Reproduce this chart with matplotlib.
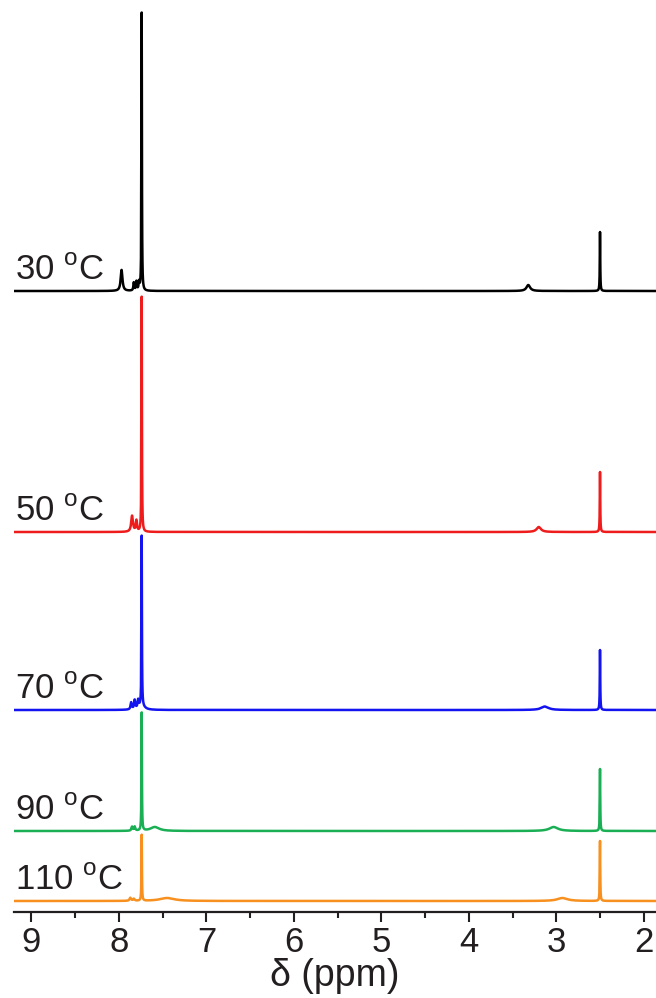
import numpy as np
import matplotlib
matplotlib.use("Agg")
import matplotlib.pyplot as plt
from matplotlib.ticker import MultipleLocator
from matplotlib.transforms import blended_transform_factory

plt.rcParams['font.family'] = ['Liberation Sans', 'DejaVu Sans']
plt.rcParams['mathtext.fontset'] = 'custom'
plt.rcParams['mathtext.rm'] = 'Liberation Sans'

# Temperature series (top to bottom)
temperatures = ["30", "50", "70", "90", "110"]
colors = ["#000000", "#EE1C1C", "#1414F0", "#1AAF54", "#F7901E"]
offsets = [621, 380, 202, 81, 11]

# Peak lists per spectrum: chemical shift (ppm), height, half width (ppm)
peaks_30 = [(7.74, 278, 0.003), (7.97, 21, 0.012), (7.83, 8, 0.006),
            (7.80, 9, 0.006), (7.77, 8, 0.006), (3.32, 6, 0.025), (2.50, 59, 0.003)]
peaks_50 = [(7.74, 235, 0.003), (7.85, 16, 0.012), (7.80, 11, 0.008),
            (3.20, 5, 0.03), (2.50, 60, 0.003)]
peaks_70 = [(7.74, 170, 0.003), (7.74, 4, 0.04), (7.86, 7, 0.008), (7.82, 9, 0.008),
            (7.78, 8, 0.008), (3.13, 3.5, 0.05), (2.50, 60, 0.003)]
peaks_90 = [(7.74, 118, 0.003), (7.85, 4, 0.008), (7.82, 4, 0.008),
            (7.59, 4, 0.06), (3.03, 4, 0.06), (2.50, 62, 0.003)]
peaks_110 = [(7.74, 66, 0.003), (7.87, 3, 0.01), (7.83, 2, 0.01),
             (7.45, 3, 0.1), (2.93, 3, 0.07), (2.50, 60, 0.003)]
spectra = [peaks_30, peaks_50, peaks_70, peaks_90, peaks_110]

ppm = np.linspace(1.86, 9.2, 30000)


def spectrum(peaks):
    y = np.zeros_like(ppm)
    for c, h, w in peaks:
        y += h * w**2 / ((ppm - c)**2 + w**2)
    return y


fig = plt.figure(figsize=(6.56, 9.98), dpi=100)
ax = fig.add_axes([14 / 656, 86 / 998, 1 - 14 / 656, 912 / 998])

trans = blended_transform_factory(ax.transAxes, ax.transData)
for temp, col, off, peaks in zip(temperatures, colors, offsets, spectra):
    ax.plot(ppm, spectrum(peaks) + off, color=col, lw=1.8, solid_joinstyle='round')
    ax.text(0.002, off + 11, temp + r" $^{\mathrm{o}}$C", transform=trans,
            fontsize=25, color='#231F20', ha='left', va='baseline')

ax.set_xlim(9.2, 1.86)
ax.set_ylim(0, 912)
for s in ['left', 'right', 'top']:
    ax.spines[s].set_visible(False)
ax.spines['bottom'].set_linewidth(1.6)
ax.spines['bottom'].set_color('#231F20')
ax.set_yticks([])
ax.xaxis.set_major_locator(MultipleLocator(1))
ax.xaxis.set_minor_locator(MultipleLocator(0.5))
ax.tick_params(axis='x', which='major', length=7, width=1.5, labelsize=25,
               pad=3, colors='#231F20')
ax.tick_params(axis='x', which='minor', length=4, width=1.5, colors='#231F20')
ax.set_xlabel("δ (ppm)", fontsize=27, labelpad=-1, color='#231F20')

fig.savefig("out.png", dpi=100)
